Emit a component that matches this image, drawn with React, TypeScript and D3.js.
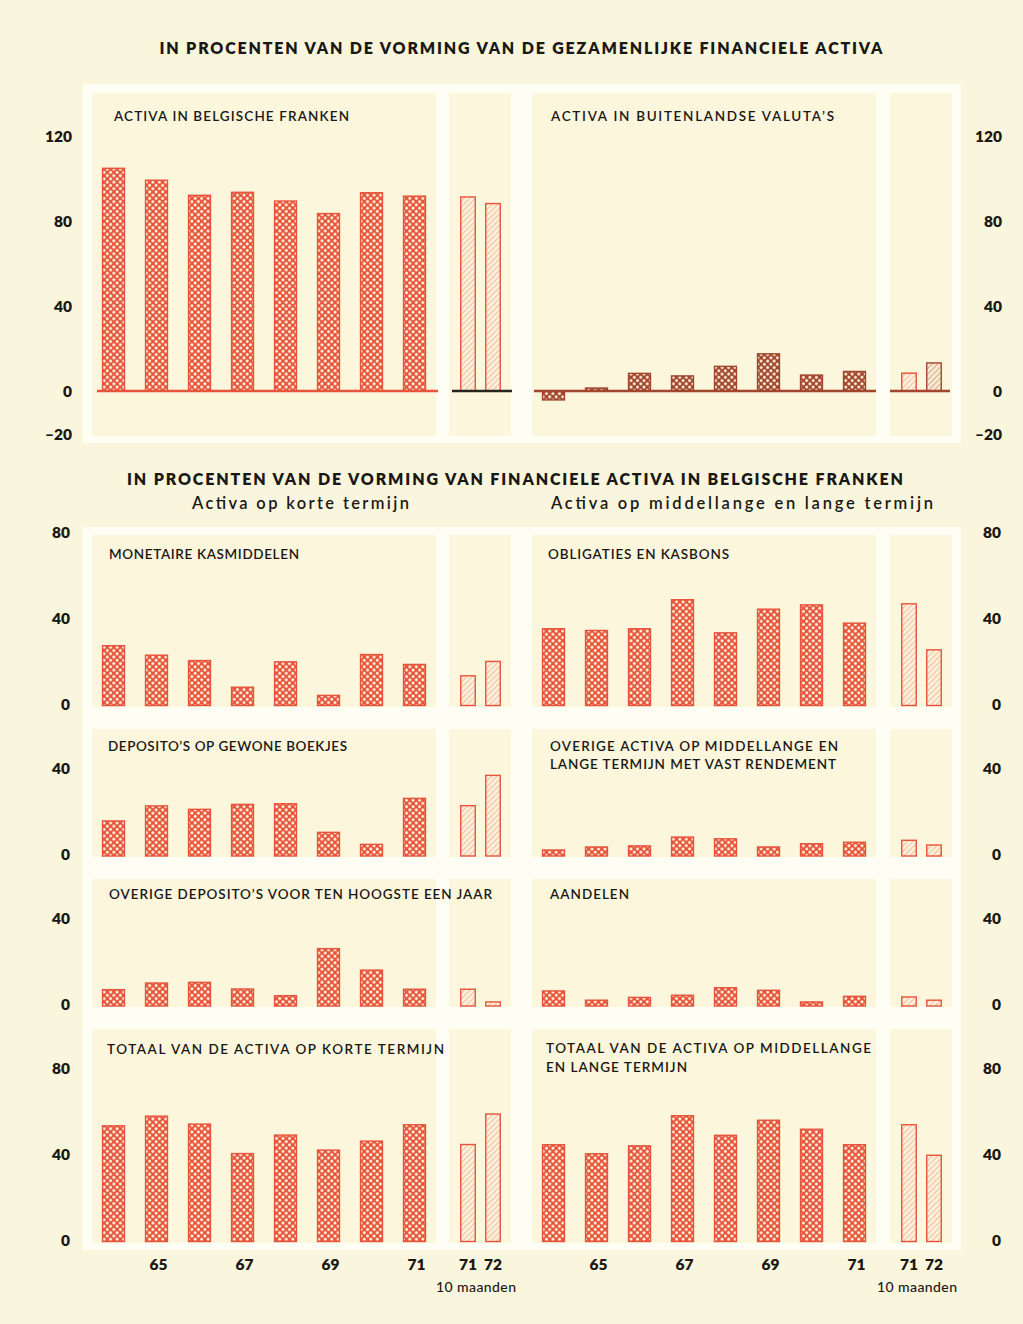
import React from 'react'
import * as d3 from 'd3'

// jaren en "10 maanden" periodes
const years = ['64', '65', '66', '67', '68', '69', '70', '71']
const yearTicks = ['65', '67', '69', '71']
const months = ['71', '72']

// bovenste grafiek: % van de gezamenlijke financiele activa
const belgischeFranken = [104.8, 99.2, 92.1, 93.5, 89.4, 83.5, 93.3, 91.7]
const belgischeFrankenMaanden = [91.3, 88.2]
const buitenlandseValuta = [-4.2, 1.4, 8.3, 7.1, 11.6, 17.5, 7.5, 9.2]
const buitenlandseValutaMaanden = [8.4, 13.2]

// korte termijn
const monetaire = [27.8, 23.4, 20.9, 8.5, 20.3, 4.7, 23.7, 19.1]
const monetaireMaanden = [13.8, 20.5]
const gewoneBoekjes = [16.3, 23.3, 21.7, 24.0, 24.3, 11.0, 5.4, 26.8]
const gewoneBoekjesMaanden = [23.4, 37.5]
const overigeDepositos = [7.6, 10.7, 11.0, 7.9, 4.8, 26.7, 16.7, 7.8]
const overigeDepositosMaanden = [7.8, 1.9]
const totaalKort = [53.8, 58.3, 54.6, 40.9, 49.5, 42.5, 46.7, 54.3]
const totaalKortMaanden = [45.1, 59.3]

// middellange en lange termijn
const obligaties = [35.7, 34.9, 35.7, 49.2, 33.8, 44.8, 46.8, 38.3]
const obligatiesMaanden = [47.3, 25.9]
const overigeVast = [2.8, 4.2, 4.7, 8.8, 8.0, 4.2, 5.7, 6.4]
const overigeVastMaanden = [7.3, 5.1]
const aandelen = [7.0, 2.7, 4.0, 5.0, 8.5, 7.3, 1.9, 4.5]
const aandelenMaanden = [4.2, 2.7]
const totaalLang = [45.0, 40.8, 44.5, 58.5, 49.4, 56.4, 52.2, 45.0]
const totaalLangMaanden = [54.3, 40.1]

const topTicks = [120, 80, 40, 0, -20]
const rowTicks = [[80, 40, 0], [40, 0], [40, 0], [80, 40, 0]]

const RED = '#e7533b'
const BROWN = '#a1452f'
const INK = '#1a1815'
const FONT = "Lato, 'DejaVu Sans', sans-serif"

const mainBand = (x0: number, x1: number) =>
    d3.scaleBand<string>().domain(years).range([x0, x1]).paddingInner(0.49).paddingOuter(0.245)
const smallBand = (x0: number, x1: number) =>
    d3.scaleBand<string>().domain(months).range([x0, x1]).paddingInner(0.42).paddingOuter(0.21)

const Bars = ({ values, x, y, fill, stroke }: any) => (
    <g>
        {values.map((v: number, i: number) => {
            const k = x.domain()[i]
            const y0 = y(0)
            const y1 = y(v)
            return (
                <rect key={k} x={x(k)} y={Math.min(y0, y1)} width={x.bandwidth()}
                    height={Math.max(1, Math.abs(y1 - y0))}
                    fill={Array.isArray(fill) ? fill[i] : fill}
                    stroke={Array.isArray(stroke) ? stroke[i] : stroke} strokeWidth={1.4} />
            )
        })}
    </g>
)

const Label = ({ x, y, w, children, size = 13.5, weight = 600, anchor = 'start' }: any) => (
    <text x={x} y={y} textLength={w} lengthAdjust="spacing" fontSize={size} fontWeight={weight}
        fill={INK} fontFamily={FONT} textAnchor={anchor}>{children}</text>
)

export default function App() {
    const W = 1023
    const H = 1324

    const leftMain = mainBand(92, 436)
    const leftSmall = smallBand(455.5, 505.5)
    const rightMain = mainBand(532, 876)
    const rightSmall = smallBand(896.5, 946.5)

    const yTop = d3.scaleLinear().domain([-20, 120]).range([433.5, 136])

    const rows = [
        { top: 535, bottom: 707, base: 705.5 },
        { top: 729, bottom: 857, base: 856 },
        { top: 879, bottom: 1007, base: 1006 },
        { top: 1029, bottom: 1243, base: 1241.5 },
    ]
    const yRows = rows.map(r => d3.scaleLinear().domain([0, 80]).range([r.base, r.base - 172]))

    const shortSeries = [
        [monetaire, monetaireMaanden],
        [gewoneBoekjes, gewoneBoekjesMaanden],
        [overigeDepositos, overigeDepositosMaanden],
        [totaalKort, totaalKortMaanden],
    ]
    const longSeries = [
        [obligaties, obligatiesMaanden],
        [overigeVast, overigeVastMaanden],
        [aandelen, aandelenMaanden],
        [totaalLang, totaalLangMaanden],
    ]

    const panelFill = '#fbf6dc'
    const frameFill = '#fffef5'

    const panels = (top: number, bottom: number) => (
        <g>
            <rect x={92} y={top} width={344} height={bottom - top} fill={panelFill} />
            <rect x={449} y={top} width={62} height={bottom - top} fill={panelFill} />
            <rect x={532} y={top} width={344} height={bottom - top} fill={panelFill} />
            <rect x={890} y={top} width={62} height={bottom - top} fill={panelFill} />
        </g>
    )

    return (
        <svg width={W} height={H} viewBox={`0 0 ${W} ${H}`}
            style={{ position: 'absolute', left: 0, top: 0, display: 'block' }}>
            <defs>
                <pattern id="cross" width="4.6" height="4.6" patternUnits="userSpaceOnUse" patternTransform="rotate(45)">
                    <rect width="4.6" height="4.6" fill={RED} />
                    <circle cx="2.3" cy="2.3" r="1.5" fill="#fcefd8" />
                </pattern>
                <pattern id="crossBrown" width="4.6" height="4.6" patternUnits="userSpaceOnUse" patternTransform="rotate(45)">
                    <rect width="4.6" height="4.6" fill={BROWN} />
                    <circle cx="2.3" cy="2.3" r="1.5" fill="#f8ecd2" />
                </pattern>
                <pattern id="diag" width="4" height="4" patternUnits="userSpaceOnUse" patternTransform="rotate(45)">
                    <rect width="4" height="4" fill="#fbf0da" />
                    <line x1="0" y1="0" x2="0" y2="4" stroke="#f2a78e" strokeWidth="1.4" />
                </pattern>
                <pattern id="diagBrown" width="4" height="4" patternUnits="userSpaceOnUse" patternTransform="rotate(45)">
                    <rect width="4" height="4" fill="#f8ead3" />
                    <line x1="0" y1="0" x2="0" y2="4" stroke="#c98a70" strokeWidth="1.4" />
                </pattern>
            </defs>

            <rect width={W} height={H} fill="#faf5dd" />

            {/* witte kaders */}
            <rect x={83} y={84} width={878} height={359} fill={frameFill} />
            <rect x={83} y={527} width={878} height={723} fill={frameFill} />

            <Label x={521} y={54} w={723} size={16} weight={800} anchor="middle">
                IN PROCENTEN VAN DE VORMING VAN DE GEZAMENLIJKE FINANCIELE ACTIVA
            </Label>

            {/* bovenste rij */}
            {panels(93, 436)}
            <Label x={114} y={121} w={235}>ACTIVA IN BELGISCHE FRANKEN</Label>
            <Label x={551} y={121} w={283}>ACTIVA IN BUITENLANDSE VALUTA’S</Label>

            <Bars values={belgischeFranken} x={leftMain} y={yTop} fill="url(#cross)" stroke={RED} />
            <Bars values={belgischeFrankenMaanden} x={leftSmall} y={yTop} fill="url(#diag)" stroke={RED} />
            <line x1={97} x2={438} y1={yTop(0)} y2={yTop(0)} stroke={RED} strokeWidth={2.5} />
            <line x1={452} x2={512} y1={yTop(0)} y2={yTop(0)} stroke="#2a2420" strokeWidth={2.5} />

            <Bars values={buitenlandseValuta} x={rightMain} y={yTop} fill="url(#crossBrown)" stroke={BROWN} />
            <Bars values={buitenlandseValutaMaanden} x={rightSmall} y={yTop}
                fill={['url(#diag)', 'url(#diagBrown)']} stroke={[RED, BROWN]} />
            <line x1={534} x2={876} y1={yTop(0)} y2={yTop(0)} stroke={BROWN} strokeWidth={2.3} />
            <line x1={890} x2={950} y1={yTop(0)} y2={yTop(0)} stroke={BROWN} strokeWidth={2.3} />

            {topTicks.map(t => (
                <g key={t} fontFamily={FONT} fontSize={15.5} fontWeight={800} fill={INK} dominantBaseline="central">
                    <text x={72} y={yTop(t)} textAnchor="end">{t < 0 ? `–${-t}` : t}</text>
                    <text x={1002} y={yTop(t)} textAnchor="end">{t < 0 ? `–${-t}` : t}</text>
                </g>
            ))}

            {/* tweede deel */}
            <Label x={515} y={485} w={776} size={16} weight={800} anchor="middle">
                IN PROCENTEN VAN DE VORMING VAN FINANCIELE ACTIVA IN BELGISCHE FRANKEN
            </Label>
            <Label x={192} y={509} w={217} size={16.5}>Activa op korte termijn</Label>
            <Label x={551} y={509} w={382} size={16.5}>Activa op middellange en lange termijn</Label>

            {rows.map((r, ri) => (
                <g key={ri}>
                    {panels(r.top, r.bottom)}
                    <Bars values={shortSeries[ri][0]} x={leftMain} y={yRows[ri]} fill="url(#cross)" stroke={RED} />
                    <Bars values={shortSeries[ri][1]} x={leftSmall} y={yRows[ri]} fill="url(#diag)" stroke={RED} />
                    <Bars values={longSeries[ri][0]} x={rightMain} y={yRows[ri]} fill="url(#cross)" stroke={RED} />
                    <Bars values={longSeries[ri][1]} x={rightSmall} y={yRows[ri]} fill="url(#diag)" stroke={RED} />
                    {rowTicks[ri].map(t => (
                        <g key={t} fontFamily={FONT} fontSize={15.5} fontWeight={800} fill={INK} dominantBaseline="central">
                            <text x={70} y={yRows[ri](t) - 2} textAnchor="end">{t}</text>
                            <text x={1001} y={yRows[ri](t) - 2} textAnchor="end">{t}</text>
                        </g>
                    ))}
                </g>
            ))}

            <Label x={109} y={559} w={190}>MONETAIRE KASMIDDELEN</Label>
            <Label x={548} y={559} w={181}>OBLIGATIES EN KASBONS</Label>
            <Label x={108} y={751} w={239}>DEPOSITO’S OP GEWONE BOEKJES</Label>
            <Label x={550} y={751} w={288}>OVERIGE ACTIVA OP MIDDELLANGE EN</Label>
            <Label x={550} y={769} w={286}>LANGE TERMIJN MET VAST RENDEMENT</Label>
            <Label x={109} y={899} w={383}>OVERIGE DEPOSITO’S VOOR TEN HOOGSTE EEN JAAR</Label>
            <Label x={550} y={899} w={79}>AANDELEN</Label>
            <Label x={107} y={1054} w={337}>TOTAAL VAN DE ACTIVA OP KORTE TERMIJN</Label>
            <Label x={546} y={1053} w={325}>TOTAAL VAN DE ACTIVA OP MIDDELLANGE</Label>
            <Label x={546} y={1072} w={141}>EN LANGE TERMIJN</Label>

            {/* jaartallen */}
            {[[leftMain, leftSmall, 476], [rightMain, rightSmall, 917]].map(([main, small, cx]: any, ci) => (
                <g key={ci} fontFamily={FONT} fill={INK}>
                    {yearTicks.map(yv => (
                        <text key={yv} x={main(yv) + main.bandwidth() / 2 + 2} y={1270} textAnchor="middle"
                            fontSize={15.5} fontWeight={800}>{yv}</text>
                    ))}
                    {months.map(m => (
                        <text key={m} x={small(m) + small.bandwidth() / 2} y={1270} textAnchor="middle"
                            fontSize={15.5} fontWeight={800}>{m}</text>
                    ))}
                    <text x={cx} y={1292} textAnchor="middle" fontSize={14} fontWeight={500}
                        textLength={80} lengthAdjust="spacing">10 maanden</text>
                </g>
            ))}
        </svg>
    )
}
